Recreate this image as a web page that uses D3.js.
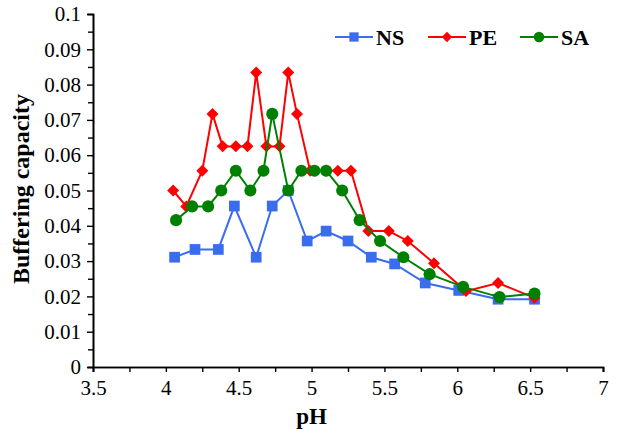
<!DOCTYPE html>
<html><head><meta charset="utf-8">
<script src="https://cdn.jsdelivr.net/npm/d3@7"></script>
<style>body{margin:0;background:#fff}svg{display:block}
svg text{font-family:"Liberation Serif","Times New Roman",Tinos,serif !important;}</style>
</head><body>
<svg id="c" width="617" height="436"></svg>
<script>
const nsPH = [4.06,4.20,4.36,4.47,4.62,4.73,4.84,4.97,5.10,5.25,5.41,5.57,5.78,6.01,6.28,6.53];
const nsVal = [0.0311,0.0333,0.0333,0.0456,0.0311,0.0456,0.0500,0.0357,0.0385,0.0357,0.0311,0.0292,0.0238,0.0217,0.0192,0.0192];
const pePH = [4.05,4.14,4.25,4.32,4.39,4.48,4.56,4.62,4.69,4.78,4.84,4.90,4.99,5.10,5.18,5.27,5.39,5.53,5.66,5.84,6.06,6.28,6.53];
const peVal = [0.0500,0.0455,0.0556,0.0717,0.0625,0.0625,0.0625,0.0834,0.0625,0.0625,0.0834,0.0717,0.0556,0.0556,0.0556,0.0556,0.0385,0.0385,0.0357,0.0294,0.0215,0.0238,0.0196];
const saPH = [4.07,4.18,4.29,4.38,4.48,4.58,4.67,4.73,4.84,4.93,5.02,5.10,5.21,5.33,5.47,5.63,5.81,6.04,6.29,6.53];
const saVal = [0.0416,0.0455,0.0455,0.0500,0.0556,0.0500,0.0556,0.0717,0.0500,0.0556,0.0556,0.0556,0.0500,0.0416,0.0357,0.0311,0.0263,0.0227,0.0198,0.0208];
const xTicks = [3.5,4,4.5,5,5.5,6,6.5,7];
const yTicks = [0,0.01,0.02,0.03,0.04,0.05,0.06,0.07,0.08,0.09,0.1];
const seriesNames = ["NS","PE","SA"];
const seriesColors = ["#3a6cf0","#ff0000","#008000"];

const svg = d3.select("#c");
const x = d3.scaleLinear().domain([3.5,7]).range([93,603]);
const y = d3.scaleLinear().domain([0,0.1]).range([367,14]);

const xAxis = d3.axisBottom(x).tickValues(xTicks).tickSize(5).tickFormat(d=>String(d));
const xMinor = d3.axisBottom(x).tickValues(d3.range(3.75,7,0.5)).tickSize(5).tickFormat("");
const yAxis = d3.axisLeft(y).tickValues(yTicks).tickSize(6).tickFormat(d=>d===0?"0":String(+d.toFixed(2)));
const yMinor = d3.axisLeft(y).tickValues(d3.range(0.005,0.1,0.01)).tickSize(5).tickFormat("");

function style(g){
  g.attr("font-family",null).attr("font-size",null);
  g.select(".domain").attr("stroke","#000").attr("stroke-width",1.6);
  g.selectAll(".tick line").attr("stroke","#000").attr("stroke-width",1.4);
  g.selectAll("text").style("font-size","21px").attr("fill","#000");
}
svg.append("g").attr("transform","translate(0,367)").call(xMinor).call(style);
svg.append("g").attr("transform","translate(0,367)").call(xAxis).call(style)
  .selectAll("text").attr("y",9).attr("dy","0.9em");
svg.append("g").attr("transform","translate(93,0)").call(yMinor).call(style);
svg.append("g").attr("transform","translate(93,0)").call(yAxis).call(style)
  .selectAll("text").attr("x",-12);

svg.append("text").attr("x",x(5)).attr("y",424).attr("text-anchor","middle")
  .style("font-weight","bold").style("font-size","23px").text("pH");
svg.append("text").attr("transform","translate(29,189) rotate(-90)").attr("text-anchor","middle")
  .style("font-weight","bold").style("font-size","24px").text("Buffering capacity");

const data = [
  nsPH.map((p,i)=>[p,nsVal[i]]),
  pePH.map((p,i)=>[p,peVal[i]]),
  saPH.map((p,i)=>[p,saVal[i]])
];
const symbols = [d3.symbolSquare, d3.symbolSquare, d3.symbolCircle];
const sizes = [115, 72, 115];
const rot = [0,45,0];
const line = d3.line().x(d=>x(d[0])).y(d=>y(d[1]));

data.forEach((pts,k)=>{
  const g = svg.append("g");
  g.append("path").attr("d",line(pts)).attr("fill","none").attr("stroke",seriesColors[k]).attr("stroke-width",2);
  g.selectAll("path.m").data(pts).join("path").attr("class","m")
    .attr("transform",d=>`translate(${x(d[0])},${y(d[1])}) rotate(${rot[k]})`)
    .attr("d",d3.symbol().type(symbols[k]).size(sizes[k]))
    .attr("fill",seriesColors[k]);
});

const legX = [335,428,520];
seriesNames.forEach((n,k)=>{
  const g = svg.append("g").attr("transform",`translate(${legX[k]},37)`);
  g.append("line").attr("x1",0).attr("x2",38).attr("stroke",seriesColors[k]).attr("stroke-width",2);
  g.append("path").attr("transform",`translate(19,0) rotate(${rot[k]})`)
    .attr("d",d3.symbol().type(symbols[k]).size(sizes[k]*0.75)).attr("fill",seriesColors[k]);
  g.append("text").attr("x",41).attr("y",8).style("font-weight","bold")
    .style("font-size","22px").text(n);
});
</script>
</body></html>
